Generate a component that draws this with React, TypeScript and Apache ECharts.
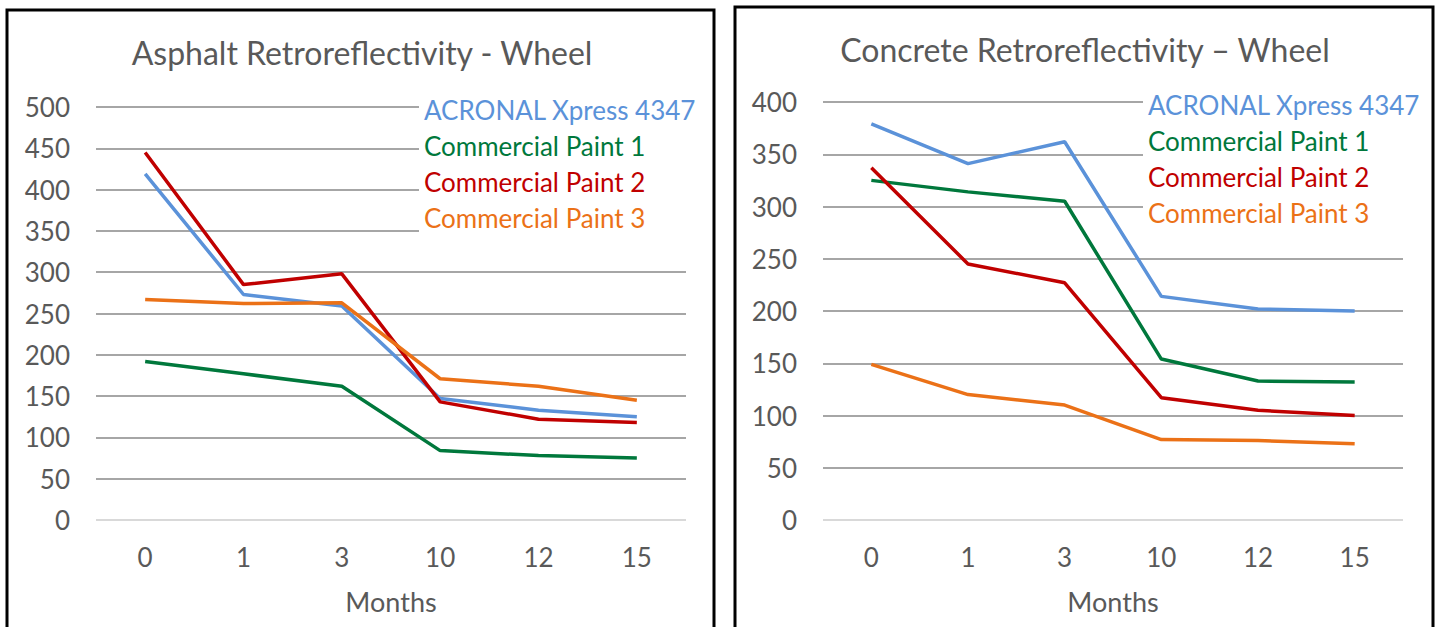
import React, { useEffect, useRef } from "react";
import * as echarts from "echarts";

const months = ["0", "1", "3", "10", "12", "15"];
const seriesNames = ["ACRONAL Xpress 4347", "Commercial Paint 1", "Commercial Paint 2", "Commercial Paint 3"];
const seriesColors = ["#5B92D9", "#00783C", "#C00000", "#EB7117"];

const asphaltTitle = "Asphalt Retroreflectivity - Wheel";
const asphaltAcronal = [419, 273, 259, 147, 133, 125];
const asphaltPaint1 = [192, 177, 162, 84, 78, 75];
const asphaltPaint2 = [445, 285, 298, 143, 122, 118];
const asphaltPaint3 = [267, 262, 263, 171, 162, 145];

const concreteTitle = "Concrete Retroreflectivity – Wheel";
const concreteAcronal = [379, 341, 362, 214, 202, 200];
const concretePaint1 = [325, 314, 305, 154, 133, 132];
const concretePaint2 = [337, 245, 227, 117, 105, 100];
const concretePaint3 = [149, 120, 110, 77, 76, 73];

const xName = "Months";

const FONT = "Lato";
const TEXT = "#595959";

export default function App() {
  const ref = useRef<HTMLDivElement>(null);
  useEffect(() => {
    if (!ref.current) return;
    const chart = echarts.init(ref.current, undefined, { renderer: "svg" });
    const asphalt = [asphaltAcronal, asphaltPaint1, asphaltPaint2, asphaltPaint3];
    const concrete = [concreteAcronal, concretePaint1, concretePaint2, concretePaint3];

    const gridColors = (n: number) => ["#D9D9D9", ...Array(n).fill("#A6A6A6")];

    const mkX = (gridIndex: number) => ({
      type: "category",
      gridIndex,
      data: months,
      boundaryGap: true,
      axisLine: { show: false },
      axisTick: { show: false },
      axisLabel: { color: TEXT, fontFamily: FONT, fontSize: 26, margin: 24 },
      name: xName,
      nameLocation: "middle",
      nameGap: 68,
      nameTextStyle: { color: TEXT, fontFamily: FONT, fontSize: 27 },
    });
    const mkY = (gridIndex: number, max: number) => ({
      type: "value",
      gridIndex,
      min: 0,
      max,
      interval: 50,
      axisLine: { show: false },
      axisTick: { show: false },
      axisLabel: { color: TEXT, fontFamily: FONT, fontSize: 26, margin: 26 },
      splitLine: { show: true, lineStyle: { color: gridColors(max / 50), width: 2 } },
    });

    const mkSeries = (data: number[][], idx: number) =>
      data.map((d, i) => ({
        type: "line",
        name: seriesNames[i],
        xAxisIndex: idx,
        yAxisIndex: idx,
        data: d,
        symbol: "none",
        showSymbol: false,
        lineStyle: { color: seriesColors[i], width: 3.5 },
        itemStyle: { color: seriesColors[i] },
        z: 2,
      }));

    const mkLegend = (left: number, top: number) => ({
      orient: "vertical",
      left,
      top,
      itemWidth: 0,
      itemHeight: 0,
      itemGap: 6,
      padding: [0, 4, 10, 0],
      backgroundColor: "#ffffff",
      icon: "rect",
      selectedMode: false,
      z: 10,
      data: seriesNames.map((n, i) => ({
        name: n,
        textStyle: { color: seriesColors[i], fontFamily: FONT, fontSize: 26, lineHeight: 30 },
      })),
    });

    chart.setOption({
      animation: false,
      backgroundColor: "#ffffff",
      title: [
        {
          text: asphaltTitle,
          left: 362,
          top: 36,
          textAlign: "center",
          padding: 0,
          textStyle: { color: TEXT, fontFamily: FONT, fontSize: 32, fontWeight: "normal" },
        },
        {
          text: concreteTitle,
          left: 1085,
          top: 33,
          textAlign: "center",
          padding: 0,
          textStyle: { color: TEXT, fontFamily: FONT, fontSize: 32, fontWeight: "normal" },
        },
      ],
      legend: [mkLegend(419, 95), mkLegend(1143, 90)],
      grid: [
        { left: 96, right: 1439 - 686, top: 107, bottom: 627 - 520, containLabel: false },
        { left: 823, right: 1439 - 1403, top: 102, bottom: 627 - 520, containLabel: false },
      ],
      xAxis: [mkX(0), mkX(1)],
      yAxis: [mkY(0, 500), mkY(1, 400)],
      series: [...mkSeries(asphalt, 0), ...mkSeries(concrete, 1)],
      graphic: [
        {
          type: "rect",
          shape: { x: 7, y: 10, width: 707, height: 660 },
          style: { fill: "none", stroke: "#000000", lineWidth: 3 },
          silent: true,
        },
        {
          type: "rect",
          shape: { x: 735, y: 7, width: 698, height: 660 },
          style: { fill: "none", stroke: "#000000", lineWidth: 3 },
          silent: true,
        },
      ],
    });
    return () => chart.dispose();
  }, []);
  return (
    <div
      ref={ref}
      style={{ position: "fixed", left: 0, top: 0, width: 1439, height: 627, background: "#fff" }}
    />
  );
}
